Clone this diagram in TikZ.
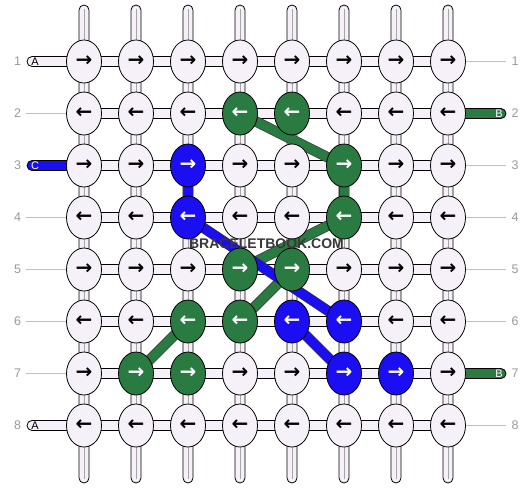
\documentclass[tikz,border=0pt]{standalone}
\usepackage{fontspec}
\setmainfont{Liberation Sans}
\newfontfamily\arrowfont{DejaVu Sans}
\usetikzlibrary{shapes.geometric}
\definecolor{lav}{HTML}{F6F1F8}
\definecolor{kgreen}{HTML}{2A7B42}
\definecolor{kblue}{HTML}{1C0EF2}
\definecolor{lbl}{HTML}{9A9A9A}
\pgfdeclarelayer{bg}
\pgfdeclarelayer{tubes}
\pgfdeclarelayer{bands}
\pgfsetlayers{bg,tubes,bands,main}
\tikzset{
  knot/.style={ellipse, draw=black, line width=0.8pt, minimum width=35pt, minimum height=43pt, inner sep=0pt, font=\arrowfont\bfseries\fontsize{20}{20}\selectfont},
  knotw/.style={knot, fill=lav, text=black},
  knotg/.style={knot, fill=kgreen, text=white},
  knotb/.style={knot, fill=kblue, text=white},
  tube/.style={draw=black, line width=0.8pt, fill=lav},
  midline/.style={draw=black!35, line width=0.6pt},
  guide/.style={draw=black!25, line width=0.8pt},
  rownum/.style={text=lbl, font=\fontsize{12.5}{12.5}\selectfont, inner sep=0pt},
  endlbl/.style={font=\fontsize{11}{11}\selectfont, inner sep=0pt},
  gband/.style={draw=black!80, line width=0.7pt, double=kgreen, double distance=9pt},
  bband/.style={draw=black!80, line width=0.7pt, double=kblue, double distance=9pt},
}
\begin{document}
\begin{tikzpicture}[x=1pt,y=-1pt]
\useasboundingbox (0,0) rectangle (532,488);
\begin{pgfonlayer}{bg}
  \fill[white] (0,0) rectangle (532,488);
\end{pgfonlayer}
% knots
\foreach \r/\codes in {1/{w,w,w,w,w,w,w,w},2/{w,w,w,g,g,w,w,w},3/{w,w,b,w,w,g,w,w},4/{w,w,b,w,w,g,w,w},5/{w,w,w,g,g,w,w,w},6/{w,w,g,g,b,b,w,w},7/{w,g,g,w,w,b,b,w},8/{w,w,w,w,w,w,w,w}}{
  \foreach \k [count=\c] in \codes {
    \node[knot\k] (k-\r-\c) at ({84+52*(\c-1)},{61.5+52*(\r-1)}) {\ifodd\r →\else ←\fi};
  }
}
\begin{pgfonlayer}{tubes}
  % vertical strands
  \foreach \c in {1,...,8}{
    \path[tube, rounded corners=5pt] ({84+52*(\c-1)-5},5) rectangle ({84+52*(\c-1)+5},483);
    \draw[midline] ({84+52*(\c-1)},9) -- ({84+52*(\c-1)},479);
  }
  % horizontal connectors
  \foreach \r in {1,...,8}{
    \path[tube] (84,{61.5+52*(\r-1)-5}) rectangle (448,{61.5+52*(\r-1)+5});
  }
  % left end strands
  \path[tube, rounded corners=5pt] (27,56.5) rectangle (90,66.5);
  \path[draw=black, line width=0.8pt, fill=kblue, rounded corners=5pt] (27,160.5) rectangle (90,170.5);
  \path[tube, rounded corners=5pt] (27,420.5) rectangle (90,430.5);
  % right end strands
  \path[draw=black, line width=0.8pt, fill=kgreen, rounded corners=5pt] (442,108.5) rectangle (506,118.5);
  \path[draw=black, line width=0.8pt, fill=kgreen, rounded corners=5pt] (442,368.5) rectangle (506,378.5);
  % guide lines
  \foreach \r in {2,4,5,6,7}{
    \draw[guide] (26,{61.5+52*(\r-1)}) -- (k-\r-1.west);
  }
  \foreach \r in {1,3,4,5,6,8}{
    \draw[guide] (k-\r-8.east) -- (506,{61.5+52*(\r-1)});
  }
\end{pgfonlayer}
\begin{pgfonlayer}{bands}
  \draw[gband] (k-2-4.center) -- (k-3-6.center);
  \draw[gband] (k-3-6.center) -- (k-4-6.center);
  \draw[gband] (k-4-6.center) -- (k-5-4.center);
  \draw[gband] (k-5-5.center) -- (k-6-4.center);
  \draw[gband] (k-6-3.center) -- (k-7-2.center);
  \draw[bband] (k-3-3.center) -- (k-4-3.center);
  \draw[bband] (k-4-3.center) -- (k-6-6.center);
  \draw[bband] (k-6-5.center) -- (k-7-6.center);
\end{pgfonlayer}
% end labels
\node[endlbl, text=black] (la1) at (35,61.5) {A};
\node[endlbl, text=white] (lc3) at (35,165.5) {C};
\node[endlbl, text=black] (la8) at (35,425.5) {A};
\node[endlbl, text=white] (rb2) at (499,113.5) {B};
\node[endlbl, text=white] (rb7) at (499,373.5) {B};
% row numbers
\foreach \r in {1,...,8}{
  \node[rownum] (ln-\r) at (17.5,{61.5+52*(\r-1)}) {\r};
  \node[rownum] (rn-\r) at (515,{61.5+52*(\r-1)}) {\r};
}
% watermark
\node[text=black!78, font=\bfseries\fontsize{14}{14}\selectfont, inner sep=0pt] (wm) at (266.5,243.5) {BRACELETBOOK.COM};
\end{tikzpicture}
\end{document}
